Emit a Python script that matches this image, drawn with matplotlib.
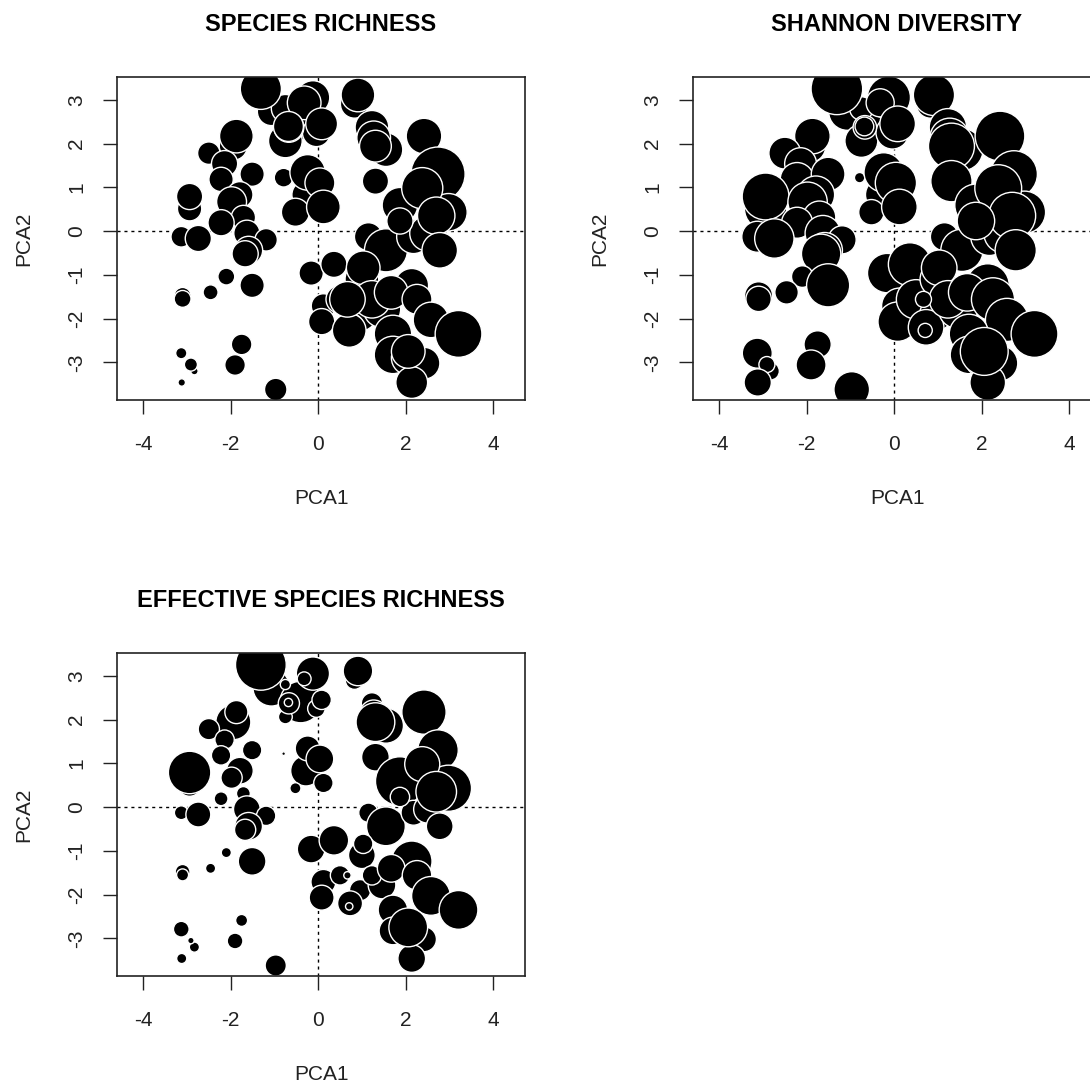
import numpy as np
import matplotlib
matplotlib.use("Agg")
import matplotlib.pyplot as plt
from matplotlib.patches import Circle
from matplotlib.collections import PatchCollection

plt.rcParams['font.family'] = ['Liberation Sans', 'DejaVu Sans']
plt.rcParams['axes.unicode_minus'] = False

# PCA scores of the sites (same for every panel), in drawing order
pca1 = [-1.07, -0.40, -0.75, -0.75, 0.83, -1.31, -0.12, -0.32, -0.04, -0.67,
        -0.68, 0.08, 0.91, -1.94, -1.87, -2.50, -2.14, -2.22, -1.51, -0.79,
        -2.94, -2.94, -1.79, -1.98, -1.71, -2.22, -3.13, -2.74, -1.63, -1.19,
        -1.59, -1.67, -2.10, -1.51, -2.46, -3.10, -3.10, -1.75, -1.90, -3.13,
        -2.83, -2.91, -3.12, -0.97, -0.28, -0.24, 0.04, -0.52, 0.12, -0.16,
        0.36, 0.12, 0.08, 0.50, 0.96, 0.73, 0.71, 1.15, 1.55, 1.00,
        1.03, 1.46, 1.23, 0.67, 2.14, 1.67, 2.26, 2.58, 3.21, 1.71,
        1.71, 2.06, 2.42, 2.14, 2.06, 1.55, 1.23, 1.27, 1.31, 1.31,
        2.42, 2.74, 1.87, 2.98, 2.18, 2.50, 2.38, 2.70, 1.87, 2.78]
pca2 = [2.73, 2.40, 2.06, 2.80, 2.90, 3.25, 3.05, 2.93, 2.25, 2.37,
        2.39, 2.45, 3.11, 1.94, 2.17, 1.78, 1.54, 1.18, 1.30, 1.22,
        0.51, 0.79, 0.83, 0.67, 0.31, 0.19, -0.13, -0.17, -0.05, -0.20,
        -0.44, -0.52, -1.04, -1.24, -1.40, -1.48, -1.55, -2.59, -3.06, -2.79,
        -3.20, -3.05, -3.46, -3.62, 0.83, 1.34, 1.10, 0.43, 0.55, -0.96,
        -0.76, -1.71, -2.07, -1.56, -1.90, -2.20, -2.27, -0.13, -0.44, -1.10,
        -0.84, -1.78, -1.56, -1.56, -1.24, -1.40, -1.56, -2.03, -2.35, -2.35,
        -2.83, -2.90, -3.02, -3.46, -2.75, 1.86, 2.37, 2.13, 1.94, 1.14,
        2.17, 1.30, 0.59, 0.43, -0.13, -0.05, 0.98, 0.35, 0.23, -0.44]

richness = [15, 15, 18, 15, 15, 22, 18, 18, 15, 16,
            16, 17, 18, 15, 18, 12, 14, 13, 13, 10,
            13, 14, 14, 16, 13, 14, 11, 14, 14, 12,
            15, 14, 9, 13, 8, 9, 9, 11, 11, 6,
            4, 7, 4, 12, 15, 19, 16, 15, 18, 13,
            14, 13, 14, 15, 18, 15, 18, 15, 23, 18,
            18, 20, 20, 19, 18, 18, 16, 19, 25, 20,
            20, 18, 17, 17, 18, 18, 18, 18, 17, 14,
            19, 29, 19, 20, 18, 19, 22, 20, 14, 19]

shannon = [2.20, 1.93, 1.93, 1.38, 1.65, 3.03, 2.53, 1.65, 1.93, 1.38,
           1.10, 2.09, 2.42, 1.93, 2.09, 1.87, 1.87, 1.98, 1.98, 0.61,
           2.48, 2.75, 2.20, 2.31, 1.93, 1.82, 1.82, 2.31, 2.09, 1.65,
           2.09, 2.31, 1.27, 2.53, 1.38, 1.65, 1.49, 1.60, 1.76, 1.76,
           1.05, 0.94, 1.60, 2.09, 1.93, 2.31, 2.42, 1.49, 2.09, 2.31,
           2.53, 2.09, 2.31, 2.31, 1.93, 2.09, 0.83, 1.65, 2.48, 2.09,
           2.09, 2.31, 2.20, 0.94, 2.53, 2.20, 2.53, 2.53, 2.75, 2.31,
           2.20, 2.31, 2.09, 2.09, 2.81, 2.48, 2.20, 2.31, 2.70, 2.42,
           2.92, 2.75, 2.48, 2.48, 2.20, 2.31, 2.75, 2.75, 2.20, 2.42]

effective = [20.0, 22.5, 7.5, 5.5, 10.0, 27.5, 18.0, 7.5, 9.5, 11.5,
             4.5, 10.5, 16.0, 19.0, 12.5, 11.5, 10.5, 10.5, 10.5, 2.0,
             12.5, 23.0, 14.5, 11.5, 7.5, 7.5, 7.5, 13.5, 14.5, 10.5,
             15.0, 11.5, 5.5, 15.0, 5.5, 8.0, 6.5, 6.5, 8.5, 8.5,
             5.5, 3.5, 5.5, 11.5, 16.5, 13.5, 15.0, 6.0, 10.5, 15.0,
             16.0, 13.5, 13.5, 10.5, 11.5, 13.5, 4.0, 10.5, 21.0, 14.5,
             10.5, 15.0, 10.5, 4.0, 22.0, 15.0, 16.0, 21.0, 21.0, 16.0,
             15.0, 15.0, 13.5, 15.0, 21.0, 19.0, 11.5, 15.0, 21.0, 15.0,
             24.0, 22.0, 26.5, 25.0, 13.5, 15.0, 19.0, 22.0, 10.5, 14.5]

titles = ["SPECIES RICHNESS", "SHANNON DIVERSITY", "EFFECTIVE SPECIES RICHNESS"]
values = [richness, shannon, effective]
max_radius = [0.62, 0.59, 0.58]   # largest circle, in PCA units

W, H = 1090, 1087
fig = plt.figure(figsize=(W / 100, H / 100), dpi=100)


def px_axes(left, top, right, bottom):
    return fig.add_axes([left / W, 1 - bottom / H, (right - left) / W, (bottom - top) / H])


boxes = [(117, 77, 525, 400), (693, 77, 1101, 400), (117, 653, 525, 976)]
ink = '#222222'

for title, v, rmax, box in zip(titles, values, max_radius, boxes):
    ax = px_axes(*box)
    v = np.asarray(v, dtype=float)
    radii = v / v.max() * rmax
    circles = [Circle((x, y), r) for x, y, r in zip(pca1, pca2, radii)]
    pc = PatchCollection(circles, facecolor='black', edgecolor='white',
                         linewidth=1.0, zorder=2)
    ax.add_collection(pc)

    # dotted reference lines through the origin
    ax.axhline(0, color='black', lw=1, linestyle=(0, (2.2, 2.8)), zorder=1)
    ax.axvline(0, color='black', lw=1, linestyle=(0, (2.2, 2.8)), zorder=1)

    ax.set_xlim(-4.6, 4.73)
    ax.set_ylim(-3.86, 3.52)
    ax.set_xticks([-4, -2, 0, 2, 4])
    ax.set_yticks([-3, -2, -1, 0, 1, 2, 3])
    ax.tick_params(direction='out', length=10, width=1, labelsize=15,
                   color=ink, labelcolor=ink)
    ax.tick_params(axis='x', pad=15)
    ax.tick_params(axis='y', pad=12, labelrotation=90)
    for lab in ax.get_yticklabels():
        lab.set_verticalalignment('center')
    for s in ax.spines.values():
        s.set_linewidth(1.2)
        s.set_color(ink)

    ax.set_xlabel("PCA1", fontsize=15, color=ink)
    ax.set_ylabel("PCA2", fontsize=15, color=ink)
    ax.xaxis.set_label_coords(0.5, -0.275)
    ax.yaxis.set_label_coords(-0.205, 0.5)
    ax.set_title(title, fontsize=17, fontweight='bold', pad=33)

fig.savefig("out.png", dpi=100)
